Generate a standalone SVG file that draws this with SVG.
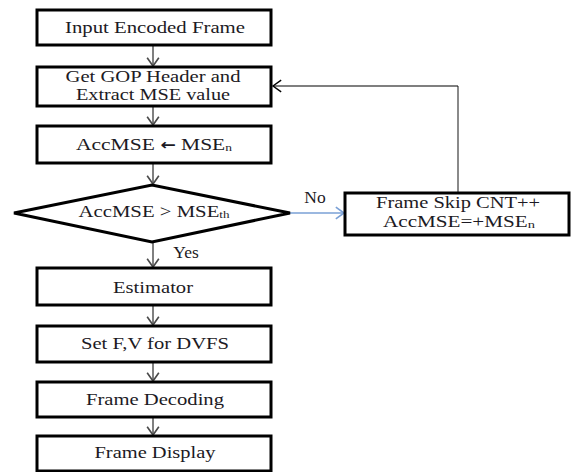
<svg xmlns="http://www.w3.org/2000/svg" width="571" height="472" viewBox="0 0 571 472">
  <style>
    .box { fill: #ffffff; stroke: #000000; stroke-width: 3; }
    .lbl { font-family: 'Liberation Serif', 'Times New Roman', serif; font-size: 17.5px; fill: #1c1a24; text-anchor: middle; }
    .two { font-size: 16px; }
    .sub { font-size: 11px; }
    .flow { stroke: #4a4a4a; stroke-width: 1.4; fill: none; }
    .blue { stroke: #7aa0d6; stroke-width: 1.4; fill: none; }
    .back-h { stroke: #000000; stroke-width: 1.2; fill: none; }
    .back-v { stroke: #8a8a8a; stroke-width: 2; fill: none; }
  </style>
  <defs>
    <marker id="chev" markerUnits="userSpaceOnUse" markerWidth="14" markerHeight="14" viewBox="-8 -6 10 12" refX="0" refY="0" orient="auto">
      <path d="M-7,-5 L0,0 L-7,5" fill="none" stroke="#4a4a4a" stroke-width="1.4"/>
    </marker>
    <marker id="chevBlue" markerUnits="userSpaceOnUse" markerWidth="14" markerHeight="14" viewBox="-8 -6 10 12" refX="0" refY="0" orient="auto">
      <path d="M-7,-5 L0,0 L-7,5" fill="none" stroke="#7aa0d6" stroke-width="1.4"/>
    </marker>
    <marker id="chevBlack" markerUnits="userSpaceOnUse" markerWidth="14" markerHeight="14" viewBox="-8 -6 10 12" refX="0" refY="0" orient="auto">
      <path d="M-7,-5 L0,0 L-7,5" fill="none" stroke="#000000" stroke-width="1.2"/>
    </marker>
  </defs>

  <rect width="571" height="472" fill="#ffffff"/>

  <!-- connectors -->
  <g id="connectors">
    <line class="flow" x1="153" y1="45" x2="153" y2="66" marker-end="url(#chev)"/>
    <line class="flow" x1="153" y1="106" x2="153" y2="125" marker-end="url(#chev)"/>
    <line class="flow" x1="153" y1="163" x2="153" y2="184" marker-end="url(#chev)"/>
    <line class="flow" x1="153" y1="242" x2="153" y2="267" marker-end="url(#chev)"/>
    <line class="flow" x1="153" y1="305" x2="153" y2="325" marker-end="url(#chev)"/>
    <line class="flow" x1="153" y1="362" x2="153" y2="381" marker-end="url(#chev)"/>
    <line class="flow" x1="153" y1="417" x2="153" y2="435" marker-end="url(#chev)"/>
    <!-- "No" branch -->
    <line class="blue" x1="290" y1="213" x2="344" y2="213" marker-end="url(#chevBlue)"/>
    <!-- loop back to the GOP header step -->
    <line class="back-v" x1="458" y1="192" x2="458" y2="86"/>
    <line class="back-h" x1="458" y1="86" x2="273" y2="86" marker-end="url(#chevBlack)"/>
    <text class="lbl" x="315" y="203">No</text>
    <text class="lbl" x="186" y="258">Yes</text>
  </g>

  <g id="input">
    <rect class="box" x="37" y="10" width="234" height="35"/>
    <text class="lbl" x="155" y="33" textLength="180" lengthAdjust="spacingAndGlyphs">Input Encoded Frame</text>
  </g>

  <g id="gop">
    <rect class="box" x="37" y="67" width="234" height="39"/>
    <text class="lbl two" x="153" y="82" textLength="175" lengthAdjust="spacingAndGlyphs">Get GOP Header and</text>
    <text class="lbl two" x="153" y="100" textLength="154" lengthAdjust="spacingAndGlyphs">Extract MSE value</text>
  </g>

  <g id="acc">
    <rect class="box" x="37" y="126" width="234" height="37"/>
    <text class="lbl" x="154" y="150" textLength="156" lengthAdjust="spacingAndGlyphs">AccMSE <tspan font-family="'DejaVu Sans', sans-serif" font-weight="bold" font-size="15px">←</tspan> MSE<tspan class="sub" dy="1">n</tspan></text>
  </g>

  <g id="decision">
    <polygon points="14,213 152,185 290,213 152,242" fill="#ffffff" stroke="#000000" stroke-width="3" stroke-linejoin="miter"/>
    <text class="lbl" x="154" y="217" textLength="151" lengthAdjust="spacingAndGlyphs">AccMSE &gt; MSE<tspan class="sub" dy="1">th</tspan></text>
  </g>

  <g id="skip">
    <rect class="box" x="345" y="193" width="224" height="42"/>
    <text class="lbl two" x="458" y="208" textLength="164" lengthAdjust="spacingAndGlyphs">Frame Skip CNT++</text>
    <text class="lbl two" x="459" y="227" textLength="152" lengthAdjust="spacingAndGlyphs">AccMSE=+MSE<tspan class="sub" dy="1">n</tspan></text>
  </g>

  <g id="estimator">
    <rect class="box" x="37" y="268" width="234" height="37"/>
    <text class="lbl" x="153" y="293" textLength="80" lengthAdjust="spacingAndGlyphs">Estimator</text>
  </g>

  <g id="dvfs">
    <rect class="box" x="37" y="326" width="234" height="36"/>
    <text class="lbl" x="155" y="349" textLength="148" lengthAdjust="spacingAndGlyphs">Set F,V for DVFS</text>
  </g>

  <g id="decoding">
    <rect class="box" x="37" y="382" width="234" height="35"/>
    <text class="lbl" x="155" y="405" textLength="138" lengthAdjust="spacingAndGlyphs">Frame Decoding</text>
  </g>

  <g id="display">
    <rect class="box" x="37" y="436" width="234" height="35"/>
    <text class="lbl" x="155" y="458" textLength="121" lengthAdjust="spacingAndGlyphs">Frame Display</text>
  </g>
</svg>
